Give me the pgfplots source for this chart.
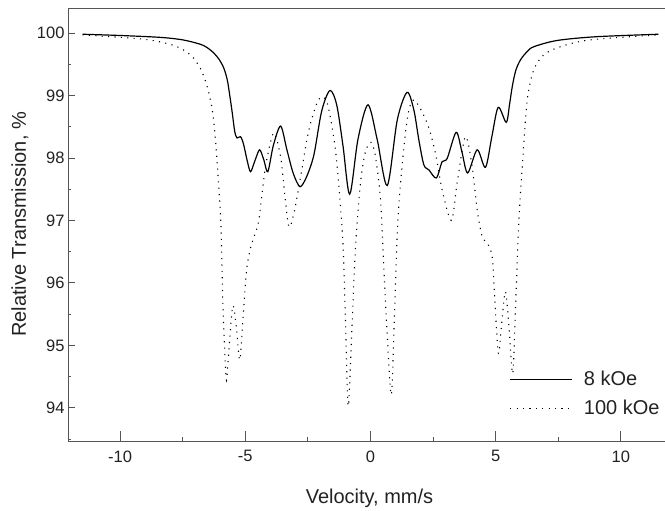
\documentclass[border=0pt]{standalone}
\usepackage{fontspec}
\setmainfont{Liberation Sans}
\usepackage{pgfplots}
\pgfplotsset{compat=1.18}
\definecolor{axisgray}{HTML}{555555}
\definecolor{txt}{HTML}{222222}
\begin{document}
\begin{tikzpicture}[x=1pt,y=1pt]
\path[use as bounding box] (-68,-70) rectangle (597,441);
% main axis: data, bottom ticks, labels
\begin{axis}[
  at={(0,0)}, anchor=south west,
  scale only axis, width=603pt, height=433pt,
  xmin=-12.08, xmax=12, ymin=93.47, ymax=100.4,
  axis line style={axisgray, line width=0.9pt},
  axis x line*=bottom, axis y line*=left,
  xtick={-10,-5,0,5,10}, xticklabels={-10,-5,0,5,10},
  minor xtick={-7.5,-2.5,2.5,7.5},
  tick align=inside,
  major tick length=10pt, minor tick length=4pt,
  xtick style={axisgray, line width=0.9pt},
  ytick={94,95,96,97,98,99,100}, yticklabels={94,95,96,97,98,99,100},
  ytick style={draw=none},
  tick label style={font=\fontsize{16.5}{20}\selectfont, text=txt},
  xticklabel style={yshift=-6pt},
  xlabel={Velocity, mm/s},
  ylabel={Relative Transmission, \%},
  label style={font=\fontsize{20}{24}\selectfont, text=txt},
  xlabel style={at={(axis description cs:0.5,0)}, anchor=center, yshift=-57pt},
  ylabel style={at={(axis description cs:0,0.5)}, anchor=center, yshift=48pt},
  legend style={draw=none, fill=none, at={(axis cs:5.55,94.62)}, anchor=north west,
    inner sep=0pt, row sep=9pt, font=\fontsize{20}{24}\selectfont, text=txt,
    /tikz/every odd column/.style={column sep=9pt}},
  legend cell align=left,
  legend image code/.code={\draw[#1] (0pt,0pt) -- (62pt,0pt);},
]
\addplot[black, line width=1.2pt, smooth, tension=0.5] coordinates {
(-11.5,99.98) (-10,99.96) (-8.4,99.93) (-7.5,99.89) (-6.8,99.82) (-6.5,99.76)
(-6.26,99.68) (-6.05,99.58) (-5.86,99.44) (-5.72,99.25) (-5.62,99.0) (-5.52,98.72)
(-5.42,98.42) (-5.33,98.32) (-5.19,98.34) (-5.07,98.22) (-4.92,97.95) (-4.79,97.78)
(-4.62,97.95) (-4.43,98.13) (-4.26,97.97) (-4.10,97.78) (-3.88,98.2) (-3.59,98.51)
(-3.35,98.15) (-3.13,97.81) (-2.95,97.62) (-2.79,97.54) (-2.55,97.7) (-2.26,98.05)
(-1.95,98.75) (-1.62,99.08) (-1.35,98.85) (-1.1,98.2) (-0.83,97.42) (-0.5,98.3)
(-0.1,98.85) (0.27,98.29) (0.67,97.56) (1.07,98.61) (1.46,99.05) (1.73,98.77)
(1.93,98.29) (2.13,97.89) (2.33,97.81) (2.63,97.68) (2.86,97.94) (3.06,97.99)
(3.42,98.41) (3.65,98.1) (3.88,97.76) (4.26,98.13) (4.59,97.85) (4.85,98.35)
(5.1,98.81) (5.42,98.57) (5.55,98.85) (5.66,99.14) (5.8,99.4) (5.99,99.57)
(6.25,99.70) (6.52,99.78) (7.45,99.88) (9,99.94) (11.5,99.98)
};
\addlegendentry{8 kOe}
\addplot[black, line width=1.1pt, dash pattern=on 1.1pt off 5.3pt, smooth, tension=0.5] coordinates {
(-11.5,99.97) (-9.05,99.90) (-7.85,99.80) (-7.19,99.65) (-6.79,99.43) (-6.52,99.14)
(-6.32,98.77) (-6.19,98.29) (-6.06,97.54) (-5.97,96.9) (-5.9,95.73) (-5.82,94.9)
(-5.75,94.44) (-5.66,94.9) (-5.5,95.63) (-5.36,95.3) (-5.22,94.77) (-5.08,95.5)
(-4.95,96.2) (-4.79,96.56) (-4.6,96.8) (-4.46,97.0) (-4.25,97.7) (-4.12,98.02)
(-3.86,98.40) (-3.59,98.02) (-3.42,97.4) (-3.26,96.90) (-3.06,97.11) (-2.79,97.70)
(-2.46,98.45) (-2.06,98.94) (-1.73,98.88) (-1.40,98.13) (-1.2,97.22) (-1.09,96.55)
(-1.0,95.4) (-0.89,94.03) (-0.75,95.2) (-0.6,96.56) (-0.4,97.6) (-0.2,98.1)
(0.02,98.25) (0.2,98.02) (0.4,97.33) (0.53,96.26) (0.65,95.3) (0.83,94.21)
(0.95,95.4) (1.07,96.8) (1.2,97.6) (1.46,98.6) (1.73,98.93) (2.26,98.56)
(2.59,98.08) (2.86,97.49) (3.23,97.0) (3.46,97.6) (3.79,98.34) (4.06,97.86)
(4.26,97.17) (4.46,96.74) (4.66,96.64) (4.86,96.42) (4.95,95.84) (5.04,95.2)
(5.12,94.87) (5.25,95.4) (5.39,95.86) (5.53,95.3) (5.68,94.55) (5.8,95.7)
(5.92,96.95) (6.06,97.86) (6.26,98.93) (6.52,99.41) (6.92,99.65) (7.58,99.78)
(8.78,99.89) (11.5,99.97)
};
\addlegendentry{100 kOe}
\end{axis}
% second axis: top ticks and left ticks, all inside
\begin{axis}[
  at={(0,0)}, anchor=south west,
  scale only axis, width=603pt, height=433pt,
  xmin=-12.08, xmax=12, ymin=93.47, ymax=100.4,
  axis line style={axisgray, line width=0.9pt},
  axis x line*=top, axis y line*=left,
  xtick=\empty, minor xtick={-10,-7.5,-5,-2.5,0,2.5,5,7.5,10},
  ytick={94,95,96,97,98,99,100}, yticklabels={},
  minor ytick={93.5,94.5,95.5,96.5,97.5,98.5,99.5},
  tick align=inside,
  major tick length=7pt, minor tick length=3.5pt,
  tick style={axisgray, line width=0.9pt},
]
\end{axis}
\end{tikzpicture}
\end{document}
